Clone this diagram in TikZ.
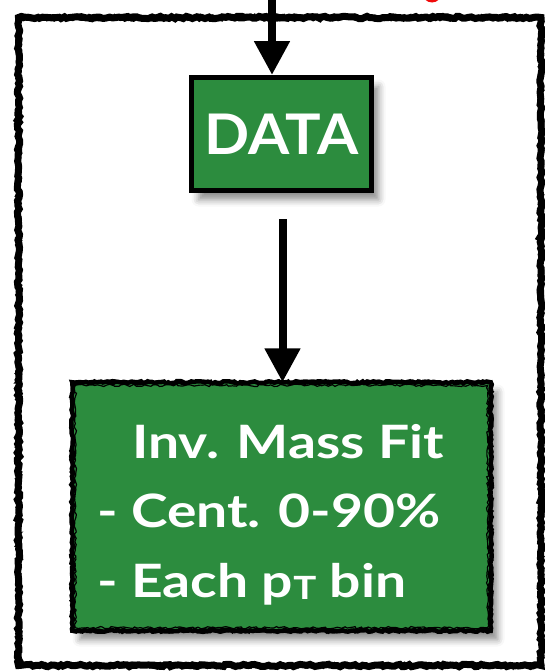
\documentclass[tikz,border=0pt]{standalone}
\usepackage{fontspec}
\setmainfont{Lato}
\usetikzlibrary{arrows.meta,decorations.pathmorphing,shadows.blur}
\definecolor{boxgreen}{RGB}{44,140,62}
\definecolor{signred}{RGB}{240,10,10}
\newcommand{\wideTxt}[1]{\scalebox{1.2}[1]{#1}}
\begin{document}
\begin{tikzpicture}[x=1pt,y=-1pt,
  txt/.style={text=white, inner sep=0pt, font=\bfseries\fontsize{46}{50}\selectfont},
  arrowline/.style={line width=8pt, -{Triangle[length=34pt,width=34pt]}},
  greenbox/.style={fill=boxgreen, blur shadow={shadow xshift=7pt, shadow yshift=-9pt, shadow blur radius=7pt, shadow opacity=45}},
  rough/.style={decorate, decoration={random steps, segment length=3pt, amplitude=#1}},
]
\pgfmathsetseed{7}
\useasboundingbox (0,0) rectangle (544,672);
% partial red glyph at the top edge
\fill[signred] (432,-8) ellipse (10pt and 10.5pt);
% outer sketchy frame
\draw[line width=7pt, rough=1.2pt] (18.5,17.5) rectangle (541,665.5);
\draw[line width=2.5pt, rough=2pt] (18,17) rectangle (541.5,666);
\draw[line width=2pt, rough=1.5pt] (20,19.5) rectangle (540,664);
% DATA box
\node[greenbox, draw=black, line width=5pt, minimum width=180pt, minimum height=113pt, inner sep=0pt,
      text=white, font=\bfseries\fontsize{56}{60}\selectfont] (datanode) at (281.5,134) {\raisebox{-6pt}{\scalebox{1.06}[1]{DATA}}};
% Fit box
\node[greenbox, minimum width=418pt, minimum height=248pt, inner sep=0pt] (fitnode) at (281.5,506.5) {};
\draw[line width=4.5pt, rough=1pt] (fitnode.north west) rectangle (fitnode.south east);
\draw[line width=1.8pt, rough=1.5pt] ([xshift=-1pt,yshift=1pt]fitnode.north west) rectangle ([xshift=1pt,yshift=-1pt]fitnode.south east);
\draw[line width=1.2pt, rough=1.2pt] ([xshift=3pt,yshift=-3pt]fitnode.north west) rectangle ([xshift=-3pt,yshift=3pt]fitnode.south east);
\node[txt, anchor=base west] (fitline1) at (132,458) {\wideTxt{Inv. Mass Fit}};
\node[txt, anchor=base west] (fitline2) at (97,527) {\wideTxt{- Cent. 0-90\%}};
\node[txt, anchor=base west] (fitline3) at (97,597) {\wideTxt{- Each p\raisebox{-2pt}{\fontsize{32}{32}\selectfont T} bin}};
% arrows
\coordinate (topstart) at (272,-5);
\draw[arrowline] (topstart) -- (topstart |- datanode.north);
\coordinate (midstart) at (282.5,219);
\draw[arrowline] (midstart) -- (midstart |- fitnode.north);
\end{tikzpicture}
\end{document}
